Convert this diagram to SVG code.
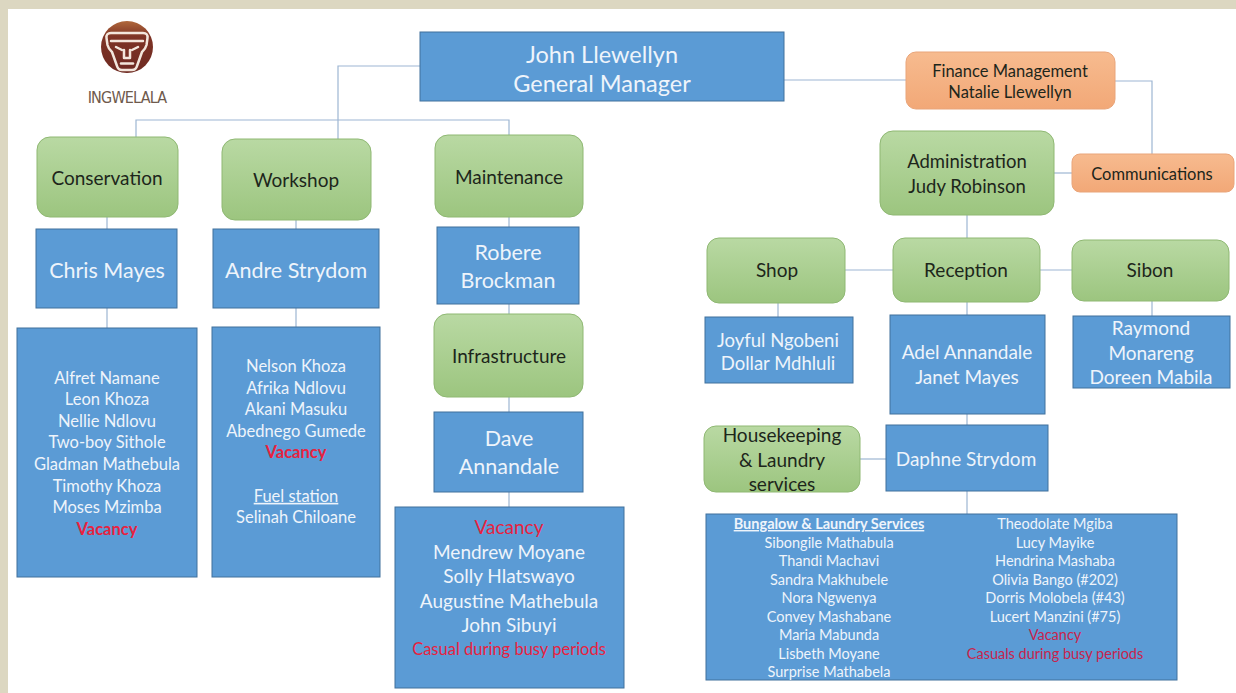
<svg xmlns="http://www.w3.org/2000/svg" width="1236" height="693" viewBox="0 0 1236 693">
<defs>
<linearGradient id="gGreen" x1="0" y1="0" x2="0" y2="1">
<stop offset="0" stop-color="#b9d9a3"/>
<stop offset="1" stop-color="#9cc57f"/>
</linearGradient>
<linearGradient id="gOrange" x1="0" y1="0" x2="0" y2="1">
<stop offset="0" stop-color="#f7bb8f"/>
<stop offset="1" stop-color="#f2a877"/>
</linearGradient>
<linearGradient id="gLogo" x1="0" y1="0" x2="0" y2="1">
<stop offset="0" stop-color="#b0683c"/>
<stop offset="0.3" stop-color="#7e3325"/>
<stop offset="1" stop-color="#6e2a22"/>
</linearGradient>
<style>
.blue{fill:#5b9bd5;stroke:#41719c;stroke-width:1}
.green{fill:url(#gGreen);stroke:#8fb873;stroke-width:1}
.orange{fill:url(#gOrange);stroke:#e9a57a;stroke-width:1}
.ln{fill:none;stroke:#9db6d3;stroke-width:1.2}
text{font-family:Lato,"Open Sans","Liberation Sans",sans-serif;text-anchor:middle}
.w{fill:#eef4fb}
.d{fill:#1d261b}
.red{fill:#e8223f}
.red2{fill:#c8234c}
.s23{font-size:23.5px}
.s21{font-size:21.5px}
.s19{font-size:19px}
.s18{font-size:18.5px}
.s16{font-size:16.5px}
.s14{font-size:14.5px}
.b{font-weight:bold}
.u{text-decoration:underline}
</style>
</defs>
<rect x="0" y="0" width="1236" height="693" fill="#dcd7c1"/>
<rect x="8" y="9" width="1228" height="684" fill="#ffffff"/>

<g id="connectors">
<path class="ln" d="M420,66 H338 V139"/>
<path class="ln" d="M136,137 V120 H509 V135"/>
<path class="ln" d="M107,217 V229 M107,308 V328"/>
<path class="ln" d="M296,220 V229 M296,308 V327"/>
<path class="ln" d="M509,217 V227 M509,304 V314 M509,397 V412 M509,492 V507"/>
<path class="ln" d="M784,80 H906"/>
<path class="ln" d="M1115,81 H1152 V154"/>
<path class="ln" d="M1054,173 H1072"/>
<path class="ln" d="M967,215 V238"/>
<path class="ln" d="M845,270 H893 M1040,270 H1072"/>
<path class="ln" d="M778,303 V317 M1152,301 V316"/>
<path class="ln" d="M967,302 V315 M967,414 V425 M967,491 V514"/>
<path class="ln" d="M860,459 H886"/>
</g>

<g id="logo">
<circle cx="127" cy="47" r="26" fill="url(#gLogo)"/>
<g fill="none" stroke="#f3e6dc" stroke-width="2.5" stroke-linejoin="round" stroke-linecap="round">
<path d="M111,33 Q106,33 106.5,38 L107.5,45 Q108.5,49 112,52 L117,66 Q118,70 122,70 L132,70 Q136,70 137,66 L142,52 Q145.5,49 146.5,45 L147.5,38 Q148,33 143,33 Z"/>
<path d="M111,41 L143,41"/>
<path d="M116,47 L122,50 M138,47 L132,50"/>
<path d="M124,50 L124,58 L130,58 L130,50"/>
<path d="M121,63.5 L133,63.5"/>
</g>
<text x="127" y="103" style="font-family:'DejaVu Sans Condensed','Liberation Sans',sans-serif;font-size:16px;fill:#6f5a4c;letter-spacing:-0.8px">INGWELALA</text>
</g>

<g id="gm">
<rect class="blue" x="420" y="32" width="364" height="69"/>
<text class="w s23" x="602" y="63">John Llewellyn</text>
<text class="w s23" x="602" y="92">General Manager</text>
</g>

<g id="finance">
<rect class="orange" x="906" y="52" width="209" height="57" rx="10"/>
<text class="d s16" x="1010" y="77">Finance Management</text>
<text class="d s16" x="1010" y="98">Natalie Llewellyn</text>
</g>

<g id="communications">
<rect class="orange" x="1072" y="154" width="162" height="38" rx="8"/>
<text class="d s16" x="1152" y="180">Communications</text>
</g>

<g id="administration">
<rect class="green" x="880" y="131" width="174" height="84" rx="13"/>
<text class="d s18" x="967" y="167.5">Administration</text>
<text class="d s18" x="967" y="192.5">Judy Robinson</text>
</g>

<g id="conservation">
<rect class="green" x="37" y="137" width="141" height="80" rx="13"/>
<text class="d s19" x="107" y="184.6">Conservation</text>
</g>
<g id="workshop">
<rect class="green" x="222" y="139" width="149" height="81" rx="13"/>
<text class="d s19" x="296" y="186.6">Workshop</text>
</g>
<g id="maintenance">
<rect class="green" x="435" y="135" width="148" height="82" rx="13"/>
<text class="d s19" x="509" y="183.6">Maintenance</text>
</g>

<g id="chris">
<rect class="blue" x="36" y="229" width="141" height="79"/>
<text class="w s21" x="107" y="277.5">Chris Mayes</text>
</g>
<g id="andre">
<rect class="blue" x="213" y="229" width="166" height="79"/>
<text class="w s21" x="296" y="277.5">Andre Strydom</text>
</g>

<g id="conservation-team">
<rect class="blue" x="17" y="328" width="180" height="249"/>
<text class="w s16" x="107" y="383.8">Alfret Namane</text>
<text class="w s16" x="107" y="404.8">Leon Khoza</text>
<text class="w s16" x="107" y="426.8">Nellie Ndlovu</text>
<text class="w s16" x="107" y="447.8">Two-boy Sithole</text>
<text class="w s16" x="107" y="469.8">Gladman Mathebula</text>
<text class="w s16" x="107" y="491.8">Timothy Khoza</text>
<text class="w s16" x="107" y="512.8">Moses Mzimba</text>
<text class="red s16 b" x="107" y="534.8">Vacancy</text>
</g>

<g id="workshop-team">
<rect class="blue" x="212" y="327" width="168" height="250"/>
<text class="w s16" x="296" y="371.8">Nelson Khoza</text>
<text class="w s16" x="296" y="393.8">Afrika Ndlovu</text>
<text class="w s16" x="296" y="414.8">Akani Masuku</text>
<text class="w s16" x="296" y="436.8">Abednego Gumede</text>
<text class="red s16 b" x="296" y="457.8">Vacancy</text>
<text class="w s16 u" x="296" y="501.8">Fuel station</text>
<text class="w s16" x="296" y="522.8">Selinah Chiloane</text>
</g>

<g id="robere">
<rect class="blue" x="437" y="227" width="142" height="77"/>
<text class="w s21" x="508" y="260.4">Robere</text>
<text class="w s21" x="508" y="288.4">Brockman</text>
</g>
<g id="infrastructure">
<rect class="green" x="434" y="314" width="149" height="83" rx="13"/>
<text class="d s19" x="509" y="362.6">Infrastructure</text>
</g>
<g id="dave">
<rect class="blue" x="434" y="412" width="149" height="80"/>
<text class="w s21" x="509" y="446.4">Dave</text>
<text class="w s21" x="509" y="474.4">Annandale</text>
</g>
<g id="maintenance-team">
<rect class="blue" x="395" y="507" width="229" height="181"/>
<text class="red s19" x="509" y="533.6">Vacancy</text>
<text class="w s19" x="509" y="558.6">Mendrew Moyane</text>
<text class="w s19" x="509" y="582.6">Solly Hlatswayo</text>
<text class="w s19" x="509" y="607.6">Augustine Mathebula</text>
<text class="w s19" x="509" y="631.6">John Sibuyi</text>
<text class="red s16" x="509" y="654.8">Casual during busy periods</text>
</g>

<g id="shop">
<rect class="green" x="707" y="238" width="138" height="65" rx="12"/>
<text class="d s19" x="777" y="276.6">Shop</text>
</g>
<g id="reception">
<rect class="green" x="893" y="238" width="147" height="64" rx="12"/>
<text class="d s19" x="966" y="276.6">Reception</text>
</g>
<g id="sibon">
<rect class="green" x="1072" y="240" width="157" height="61" rx="12"/>
<text class="d s19" x="1150" y="276.6">Sibon</text>
</g>

<g id="shop-team">
<rect class="blue" x="705" y="317" width="148" height="66"/>
<text class="w s18" x="778" y="346.6">Joyful Ngobeni</text>
<text class="w s18" x="778" y="369.6">Dollar Mdhluli</text>
</g>
<g id="reception-team">
<rect class="blue" x="890" y="315" width="155" height="99"/>
<text class="w s19" x="967" y="358.6">Adel Annandale</text>
<text class="w s19" x="967" y="383.6">Janet Mayes</text>
</g>
<g id="sibon-team">
<rect class="blue" x="1073" y="316" width="157" height="72"/>
<text class="w s19" x="1151" y="334.6">Raymond</text>
<text class="w s19" x="1151" y="359.6">Monareng</text>
<text class="w s19" x="1151" y="383.6">Doreen Mabila</text>
</g>

<g id="housekeeping">
<rect class="green" x="704" y="426" width="156" height="66" rx="12"/>
<text class="d s19" x="782" y="441.6">Housekeeping</text>
<text class="d s19" x="782" y="466.6">&amp; Laundry</text>
<text class="d s19" x="782" y="490.6">services</text>
</g>
<g id="daphne">
<rect class="blue" x="886" y="425" width="162" height="66"/>
<text class="w s19" x="966" y="465.6">Daphne Strydom</text>
</g>

<g id="housekeeping-team">
<rect class="blue" x="706" y="514" width="471" height="166"/>
<text class="w s14 b u" x="829" y="529">Bungalow &amp; Laundry Services</text>
<text class="w s14" x="829" y="548">Sibongile Mathabula</text>
<text class="w s14" x="829" y="566">Thandi Machavi</text>
<text class="w s14" x="829" y="585">Sandra Makhubele</text>
<text class="w s14" x="829" y="603">Nora Ngwenya</text>
<text class="w s14" x="829" y="622">Convey Mashabane</text>
<text class="w s14" x="829" y="640">Maria Mabunda</text>
<text class="w s14" x="829" y="659">Lisbeth Moyane</text>
<text class="w s14" x="829" y="677">Surprise Mathabela</text>
<text class="w s14" x="1055" y="529">Theodolate Mgiba</text>
<text class="w s14" x="1055" y="548">Lucy Mayike</text>
<text class="w s14" x="1055" y="566">Hendrina Mashaba</text>
<text class="w s14" x="1055" y="585">Olivia Bango (#202)</text>
<text class="w s14" x="1055" y="603">Dorris Molobela (#43)</text>
<text class="w s14" x="1055" y="622">Lucert Manzini (#75)</text>
<text class="red2 s14" x="1055" y="640">Vacancy</text>
<text class="red2 s14" x="1055" y="659">Casuals during busy periods</text>
</g>
</svg>
